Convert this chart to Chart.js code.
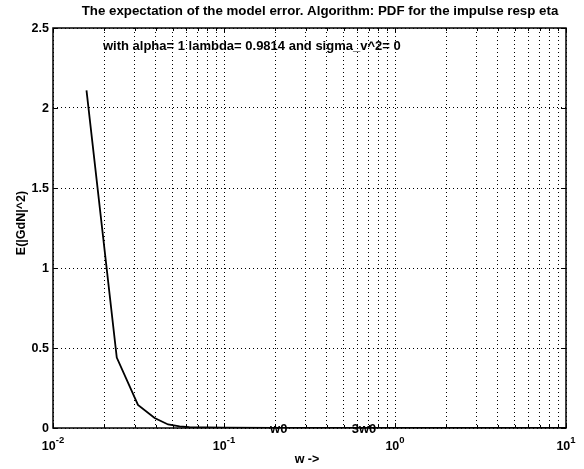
<!DOCTYPE html>
<html>
<head>
<meta charset="utf-8">
<script src="https://cdn.jsdelivr.net/npm/chart.js@4.4.1/dist/chart.umd.min.js"></script>
<style>
  html, body { margin: 0; padding: 0; background: #fff; }
  #wrap { width: 584px; height: 469px; }
</style>
</head>
<body>
<div id="wrap"><canvas id="c" width="584" height="469"></canvas></div>
<script>
// DATA
var wVals = [0.0157, 0.0236, 0.0314, 0.0393, 0.0471, 0.055, 0.0628, 0.0785, 0.1, 0.2, 0.5, 1, 2, 5, 10];
var errVals = [2.11, 0.44, 0.144, 0.062, 0.022, 0.01, 0.005, 0.003, 0.002, 0.001, 0, 0, 0, 0, 0];
var xTicks = [0.01, 0.02, 0.03, 0.04, 0.05, 0.06, 0.07, 0.08, 0.09,
  0.1, 0.2, 0.3, 0.4, 0.5, 0.6, 0.7, 0.8, 0.9,
  1, 2, 3, 4, 5, 6, 7, 8, 9, 10];
var xMajor = [0.01, 0.1, 1, 10];
var xMajorExp = ["-2", "-1", "0", "1"];
var yTicks = [0, 0.5, 1, 1.5, 2, 2.5];
var yTickLabels = ["0", "0.5", "1", "1.5", "2", "2.5"];
var notes = [
  { x: 0.0196, y: 2.39, text: "with alpha= 1 lambda= 0.9814 and sigma_v^2= 0" },
  { x: 0.186, y: 0, text: "w0" },
  { x: 0.558, y: 0, text: "3w0" }
];
var titleText = "The expectation of the model error. Algorithm: PDF for the impulse resp eta";
var xLabel = "w ->";
var yLabel = "E(|GdN|^2)";

var FONT = "'Liberation Sans', Arial, sans-serif";

//  LABELS + FRAME
var matlabPlugin = {
  id: "matlab",
  afterDraw: function (chart) {
    var ctx = chart.ctx;
    var a = chart.chartArea;
    var xs = chart.scales.x;
    var ys = chart.scales.y;
    ctx.save();
    ctx.fillStyle = "#000";
    ctx.strokeStyle = "#000";

    // frame
    ctx.lineWidth = 1.5;
    ctx.strokeRect(a.left, a.top, a.right - a.left, a.bottom - a.top);

    // tick marks (inward)
    ctx.lineWidth = 1;
    ctx.beginPath();
    for (var i = 0; i < yTicks.length; i++) {
      var py = Math.round(ys.getPixelForValue(yTicks[i])) + 0.5;
      ctx.moveTo(a.left, py); ctx.lineTo(a.left + 5, py);
      ctx.moveTo(a.right, py); ctx.lineTo(a.right - 5, py);
    }
    for (var i = 0; i < xTicks.length; i++) {
      var px = Math.round(xs.getPixelForValue(xTicks[i])) + 0.5;
      var len = xMajor.indexOf(xTicks[i]) >= 0 ? 5 : 3;
      ctx.moveTo(px, a.bottom); ctx.lineTo(px, a.bottom - len);
      ctx.moveTo(px, a.top); ctx.lineTo(px, a.top + len);
    }
    ctx.stroke();

    // y tick labels
    ctx.font = "bold 12.5px " + FONT;
    ctx.textAlign = "right";
    ctx.textBaseline = "middle";
    for (var i = 0; i < yTicks.length; i++) {
      ctx.fillText(yTickLabels[i], a.left - 4, ys.getPixelForValue(yTicks[i]) + 1);
    }

    // x tick labels with superscript
    for (var i = 0; i < xMajor.length; i++) {
      var px = xs.getPixelForValue(xMajor[i]);
      ctx.font = "bold 12.5px " + FONT;
      var bw = ctx.measureText("10").width;
      ctx.font = "bold 9.5px " + FONT;
      var ew = ctx.measureText(xMajorExp[i]).width;
      var x0 = px - (bw + ew) / 2;
      ctx.textAlign = "left";
      ctx.textBaseline = "alphabetic";
      ctx.font = "bold 12.5px " + FONT;
      ctx.fillText("10", x0, a.bottom + 22);
      ctx.font = "bold 9.5px " + FONT;
      ctx.fillText(xMajorExp[i], x0 + bw, a.bottom + 15);
    }

    // notes inside plot
    ctx.font = "bold 13px " + FONT;
    ctx.textAlign = "left";
    ctx.textBaseline = "middle";
    for (var i = 0; i < notes.length; i++) {
      ctx.fillText(notes[i].text, xs.getPixelForValue(notes[i].x), ys.getPixelForValue(notes[i].y) + 1);
    }

    // title
    ctx.font = "bold 13.3px " + FONT;
    ctx.textAlign = "center";
    ctx.textBaseline = "middle";
    ctx.fillText(titleText, 320, 11);

    // axis labels
    ctx.font = "bold 12.5px " + FONT;
    ctx.fillText(xLabel, 307, 460);
    ctx.translate(22, 223);
    ctx.rotate(-Math.PI / 2);
    ctx.fillText(yLabel, 0, 0);
    ctx.restore();
  }
};

var points = [];
for (var i = 0; i < wVals.length; i++) {
  points.push({ x: wVals[i], y: errVals[i] });
}

new Chart(document.getElementById("c"), {
  type: "line",
  data: {
    datasets: [{
      data: points,
      borderColor: "#000",
      borderWidth: 1.8,
      pointRadius: 0,
      tension: 0,
      fill: false
    }]
  },
  options: {
    responsive: false,
    animation: false,
    devicePixelRatio: 1,
    layout: { padding: { left: 53, right: 18, top: 28, bottom: 41 } },
    plugins: { legend: { display: false }, tooltip: { enabled: false } },
    scales: {
      x: {
        type: "logarithmic",
        min: 0.01,
        max: 10,
        afterBuildTicks: function (s) {
          s.ticks = xTicks.map(function (v) { return { value: v }; });
        },
        ticks: { display: false },
        border: { display: false, dash: [1, 3] },
        grid: { color: "#000", lineWidth: 1, drawTicks: false }
      },
      y: {
        type: "linear",
        min: 0,
        max: 2.5,
        afterBuildTicks: function (s) {
          s.ticks = yTicks.map(function (v) { return { value: v }; });
        },
        ticks: { display: false },
        border: { display: false, dash: [1, 3] },
        grid: { color: "#000", lineWidth: 1, drawTicks: false }
      }
    }
  },
  plugins: [matlabPlugin]
});
</script>
</body>
</html>
